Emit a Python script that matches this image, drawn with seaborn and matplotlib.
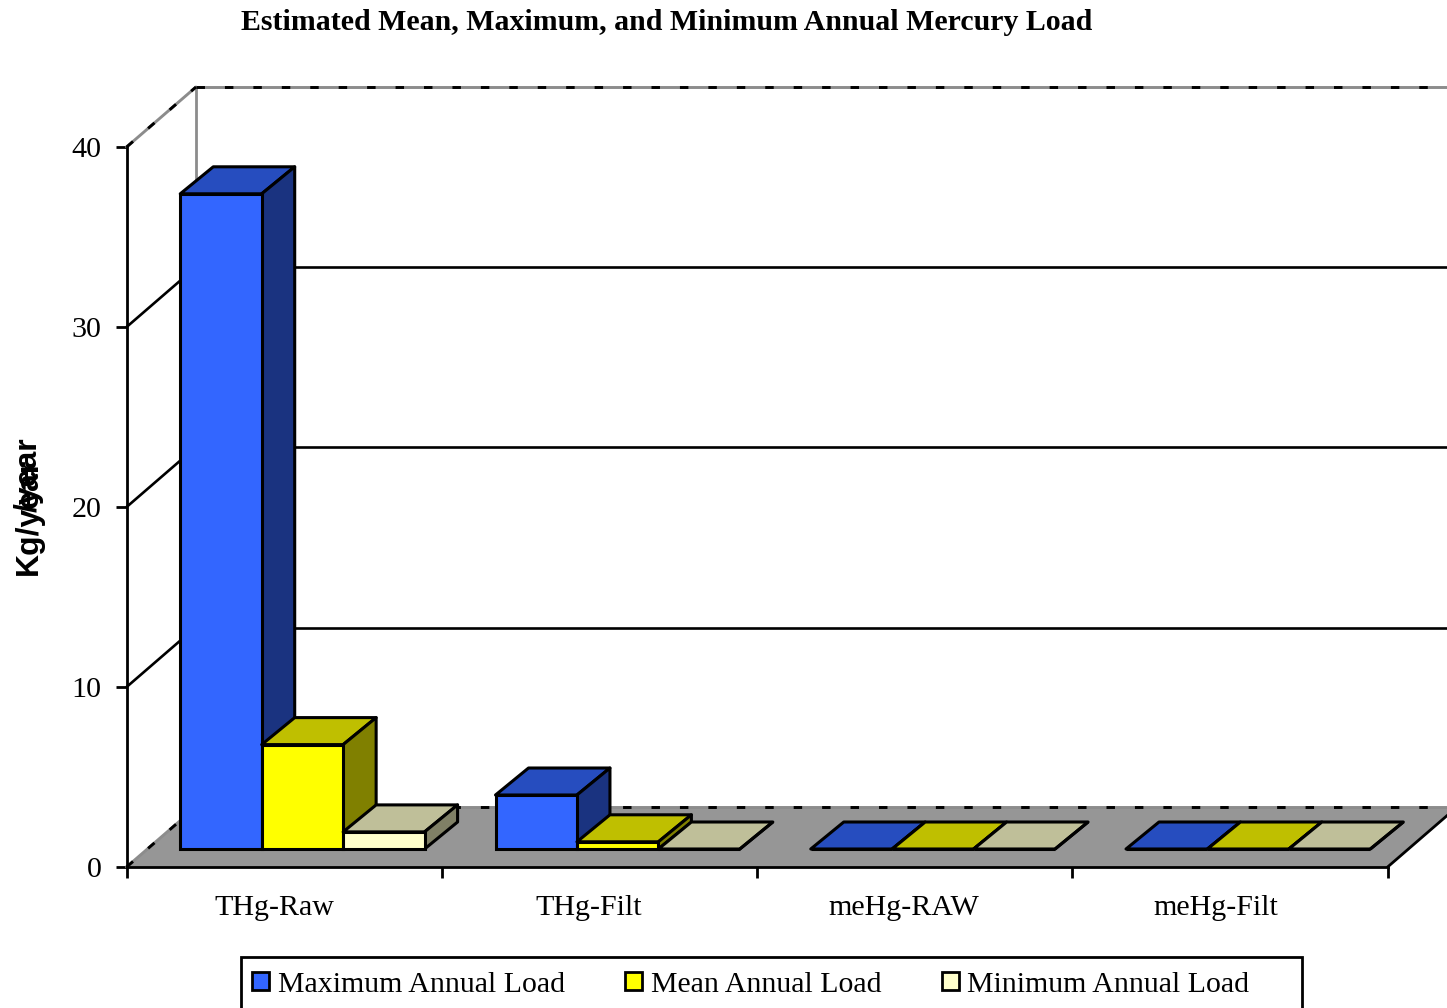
import matplotlib
matplotlib.use("Agg")
import matplotlib.pyplot as plt
import matplotlib.transforms as mtrans
from matplotlib.patches import Polygon, Rectangle
from matplotlib.colors import to_rgb
import pandas as pd
import seaborn as sns

categories = ["THg-Raw", "THg-Filt", "meHg-RAW", "meHg-Filt"]
series_names = ["Maximum Annual Load", "Mean Annual Load", "Minimum Annual Load"]
max_load = [36.4, 3.0, 0.0, 0.0]
mean_load = [5.8, 0.4, 0.0, 0.0]
min_load = [0.95, 0.0, 0.0, 0.0]
y_ticks = [0, 10, 20, 30, 40]
palette = ["#3366FF", "#FFFF00", "#FFFFCC"]
FLOOR = "#969696"
WALL = "#8C8C8C"

W, H, DPI = 1447, 1008, 100
sns.set_theme(style="white")
plt.rcParams["font.family"] = ["Liberation Serif", "DejaVu Serif"]

fig = plt.figure(figsize=(W / DPI, H / DPI), dpi=DPI, facecolor="white")
ax = fig.add_axes([126.6 / W, (H - 867) / H, 1261 / W, 720 / H])
ax.patch.set_visible(False)

frame = pd.DataFrame({
    "category": categories * 3,
    "series": [s for s in series_names for _ in categories],
    "load": max_load + mean_load + min_load,
})
sns.barplot(data=frame, x="category", y="load", hue="series", order=categories,
            hue_order=series_names, palette=palette, saturation=1, width=0.775,
            gap=0, edgecolor="black", linewidth=2.2, ax=ax)
ax.set_xlim(-0.5, 3.5)
ax.set_ylim(0, 40)


def shifted(dx, dy):
    """Data transform moved by a pixel offset, used for the oblique depth."""
    return ax.transData + mtrans.Affine2D().translate(dx, dy)


def shade(color, k):
    return tuple(c * k for c in to_rgb(color))


# pixel scale of the data axes
per_x = 1261 / 4
per_y = 720 / 40
wall = shifted(69.4, 60)
x0, x1 = ax.get_xlim()

# floor of the chart box
floor_dx, floor_dy = 69.4 / per_x, 60 / per_y
ax.add_patch(Polygon([(x0, 0), (x1, 0), (x1 + floor_dx, floor_dy), (x0 + floor_dx, floor_dy)],
                     closed=True, fc=FLOOR, ec="none", zorder=1, clip_on=False))

# back wall and its grid
ax.plot([x0, x0], [0, 40], transform=wall, color=WALL, lw=2, zorder=0.8, clip_on=False)
for v, nudge in zip(y_ticks[1:-1], (-0.5, 0, -0.5)):
    ax.plot([x0, x1], [v, v], transform=shifted(69.4, 60 + nudge), color="black", lw=1.9,
            zorder=0.8, clip_on=False)
    ax.plot([x0, x0 + floor_dx], [v, v + floor_dy], color="black", lw=1.9, zorder=0.8, clip_on=False)

dash = (0, (2.9, 6.85))
for xs, ys, tr in [
    ([x0, x1], [40, 40], wall),
    ([x0, x1], [0, 0], wall),
    ([x0, x0 + floor_dx], [40, 40 + floor_dy], ax.transData),
    ([x0, x0 + floor_dx], [0, floor_dy], ax.transData),
]:
    ax.plot(xs, ys, transform=tr, color=WALL, lw=2.1, zorder=1.1, clip_on=False)
    ax.plot(xs, ys, transform=tr, color="black", lw=2.1, ls=dash, dash_capstyle="butt",
            zorder=1.2, clip_on=False)

# right edge of the floor
ax.plot([x1, x1 + floor_dx], [0, floor_dy], color="black", lw=2, zorder=1.3, clip_on=False)

# bars: front faces sit part-way into the box; tops and sides extend them in depth
bar_tr = shifted(18.2, 18)
depth_x, depth_y = 33 / per_x, 27 / per_y
order = 3
for group in range(len(categories)):
    for s, container in enumerate(ax.containers):
        bar = container.patches[group]
        x, w, h = bar.get_x(), bar.get_width(), bar.get_height()
        color = palette[s]
        top = Polygon([(x, h), (x + w, h), (x + w + depth_x, h + depth_y), (x + depth_x, h + depth_y)],
                      closed=True, fc=shade(color, 0.75), ec="black", lw=2.2,
                      joinstyle="round", transform=bar_tr, zorder=order, clip_on=False)
        side = Polygon([(x + w, 0), (x + w + depth_x, depth_y), (x + w + depth_x, h + depth_y), (x + w, h)],
                       closed=True, fc=shade(color, 0.5), ec="black", lw=2.2,
                       joinstyle="round", transform=bar_tr, zorder=order, clip_on=False)
        ax.add_patch(top)
        ax.add_patch(side)
        bar.set_transform(bar_tr)
        bar.set_clip_on(False)
        bar.set_zorder(order + 0.5)
        order += 1

# axes, ticks and labels
sns.despine(ax=ax)
for name in ("left", "bottom"):
    ax.spines[name].set_linewidth(2)
    ax.spines[name].set_color("black")
    ax.spines[name].set_zorder(1.4)
ax.set_yticks(y_ticks)
ax.set_xticks([-0.5, 0.5, 1.5, 2.5, 3.5])
ax.set_xticklabels([])
ax.set_xticks(range(len(categories)), minor=True)
ax.set_xticklabels(categories, minor=True)
ax.tick_params(axis="both", which="major", direction="out", length=8, width=2,
               color="black", labelsize=21.6, labelcolor="black", left=True, bottom=True)
ax.tick_params(axis="y", pad=10)
ax.tick_params(axis="x", which="minor", length=0, labelsize=21.6, pad=20.5, labelcolor="black")
for label, nudge in zip(ax.get_xticklabels(minor=True), (-10, -11, -11, -14)):
    label.set_transform(label.get_transform() + mtrans.Affine2D().translate(nudge, 0))
ax.set_xlabel("")
ax.set_ylabel("")

fig.text(241 / W, 1 - 22.5 / H, "Estimated Mean, Maximum, and Minimum Annual Mercury Load",
         fontsize=21.5, fontweight="bold", color="black", ha="left", va="center")

# overprinted axis title
for text, base in [("Kg/year", 575), ("/year", 512)]:
    fig.text(29 / W, 1 - base / H, text, rotation=90, family=["Liberation Sans"], fontsize=23,
             fontweight="bold", color="black", ha="center", va="bottom")

# legend
handles, labels = ax.get_legend_handles_labels()
legend = ax.legend(handles, labels, ncols=3, frameon=False, fontsize=21.5, loc="center left",
                   bbox_to_anchor=(252 / W, 1 - 984.5 / H), bbox_transform=fig.transFigure,
                   handlelength=0.58, handleheight=0.58, handletextpad=0.28,
                   columnspacing=2.02, borderaxespad=0, borderpad=0, labelcolor="black")
for patch in legend.get_patches():
    patch.set_edgecolor("black")
    patch.set_linewidth(2)
fig.add_artist(Rectangle((241 / W, 1 - 1012 / H), 1061 / W, 55 / H, transform=fig.transFigure,
                         fc="none", ec="black", lw=2))

fig.savefig("out.png", dpi=DPI, facecolor="white")
